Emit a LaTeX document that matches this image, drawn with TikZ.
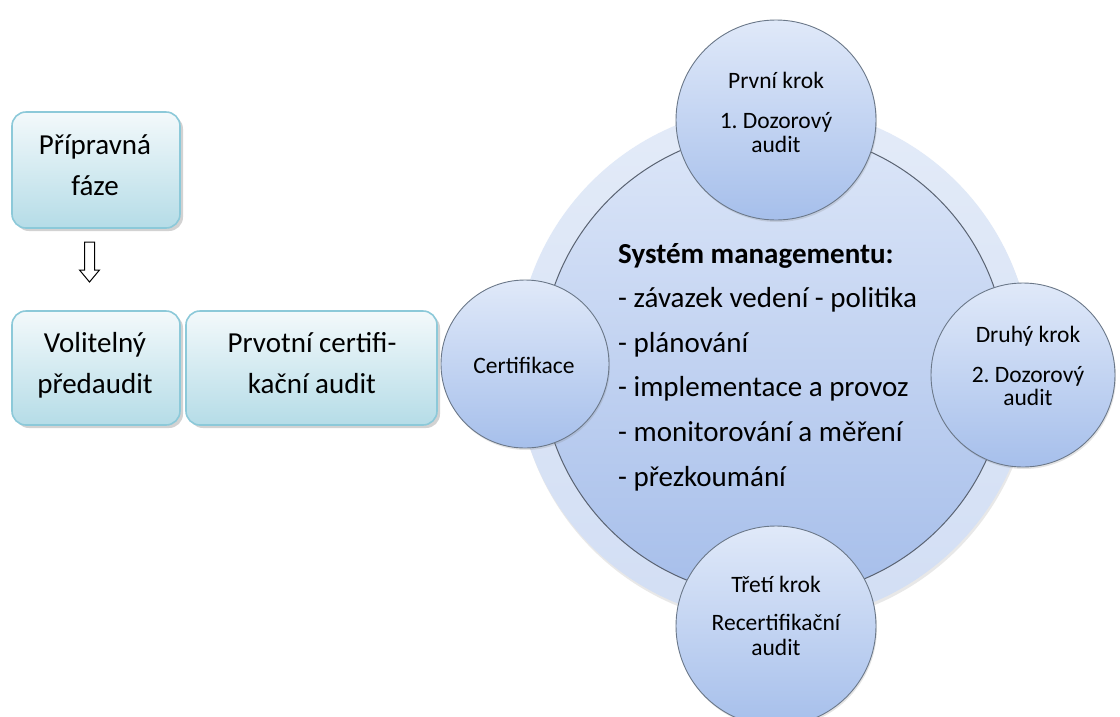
\documentclass[tikz,border=0pt]{standalone}
\usepackage{fontspec}
\setmainfont{Carlito}
\usetikzlibrary{shadows}
\frenchspacing
\definecolor{ringtop}{HTML}{E3EBF8}
\definecolor{ringbot}{HTML}{D2DEF4}
\definecolor{coretop}{HTML}{DCE6F8}
\definecolor{corebot}{HTML}{A6BEEA}
\definecolor{coreedge}{HTML}{5A6372}
\definecolor{ctop}{HTML}{E0E9F9}
\definecolor{cbot}{HTML}{A6BFEB}
\definecolor{cedge}{HTML}{6B7889}
\definecolor{boxedge}{HTML}{8CC9D9}
\definecolor{btop}{HTML}{F3F9FB}
\definecolor{bbot}{HTML}{B5DCE7}
\begin{document}
\begin{tikzpicture}[x=1pt,y=-1pt,
  stepcirc/.style={circle, draw=cedge, line width=0.9pt, top color=ctop, bottom color=cbot, inner sep=0pt,
    drop shadow={shadow xshift=1pt,shadow yshift=-2pt,opacity=0.22}},
  boxnode/.style={rectangle, rounded corners=14pt, draw=boxedge, line width=1.6pt, top color=btop, bottom color=bbot,
    inner sep=0pt, drop shadow={shadow xshift=3pt,shadow yshift=-3pt,opacity=0.35}},
  ctxt/.style={font=\fontsize{23.5}{25}\selectfont, anchor=base, inner sep=0pt},
  btxt/.style={font=\fontsize{29}{35}\selectfont, anchor=base, inner sep=0pt},
  mtxt/.style={font=\fontsize{29}{35}\selectfont, anchor=base west, inner sep=0pt},
]
\useasboundingbox[fill=white] (0,0) rectangle (1120,716);

% ring and core
\node[circle, minimum size=516pt, inner sep=0pt, top color=ringtop, bottom color=ringbot,
  drop shadow={shadow xshift=1pt,shadow yshift=-3pt,opacity=0.18}] (ring) at (774,364) {};
\node[circle, minimum size=466pt, inner sep=0pt, draw=coreedge, line width=1pt, top color=coretop, bottom color=corebot] (core) at (774,364) {};

% central text
\node[mtxt, font=\fontsize{29}{35}\selectfont\bfseries] (m0) at (618,263) {Systém managementu:};
\node[mtxt] (m1) at (618,307.6) {- závazek vedení - politika};
\node[mtxt] (m2) at (618,352.2) {- plánování};
\node[mtxt] (m3) at (618,396.8) {- implementace a provoz};
\node[mtxt] (m4) at (618,441.4) {- monitorování a měření};
\node[mtxt] (m5) at (618,486) {- přezkoumání};

% step circles
\node[stepcirc, minimum size=200pt] (top) at (776,120) {};
\node[ctxt] (t1) at (776,88) {První krok};
\node[ctxt] (t2) at (776,128) {1. Dozorový};
\node[ctxt] (t3) at (776,152) {audit};

\node[stepcirc, minimum size=184pt] (right) at (1023,375) {};
\node[ctxt] (r1) at (1028,342) {Druhý krok};
\node[ctxt] (r2) at (1028,382) {2. Dozorový};
\node[ctxt] (r3) at (1028,405) {audit};

\node[stepcirc, minimum size=200pt] (bottom) at (776,626) {};
\node[ctxt] (d1) at (776,592) {Třetí krok};
\node[ctxt] (d2) at (776,630) {Recertifikační};
\node[ctxt] (d3) at (776,655) {audit};

\node[stepcirc, minimum size=168pt] (left) at (525,364) {};
\node[ctxt] (l1) at (524,373) {Certifikace};

% boxes
\node[boxnode, minimum width=168pt, minimum height=116pt] (b1) at (96,170) {};
\node[btxt] (b1a) at (95,154) {Přípravná};
\node[btxt] (b1b) at (95,195) {fáze};

\node[boxnode, minimum width=168pt, minimum height=114pt] (b2) at (96,368) {};
\node[btxt] (b2a) at (95,352) {Volitelný};
\node[btxt] (b2b) at (95,393) {předaudit};

\node[boxnode, minimum width=251pt, minimum height=114pt] (b3) at (311.5,368) {};
\node[btxt] (b3a) at (312,352) {Prvotní certifi-};
\node[btxt] (b3b) at (312,393) {kační audit};

% hollow down arrow
\draw[line width=1pt, fill=white, line join=miter]
  (84.5,242) -- (94.5,242) -- (94.5,270) -- (99.5,270) -- (89.5,282) -- (79.5,270) -- (84.5,270) -- cycle;
\end{tikzpicture}
\end{document}
